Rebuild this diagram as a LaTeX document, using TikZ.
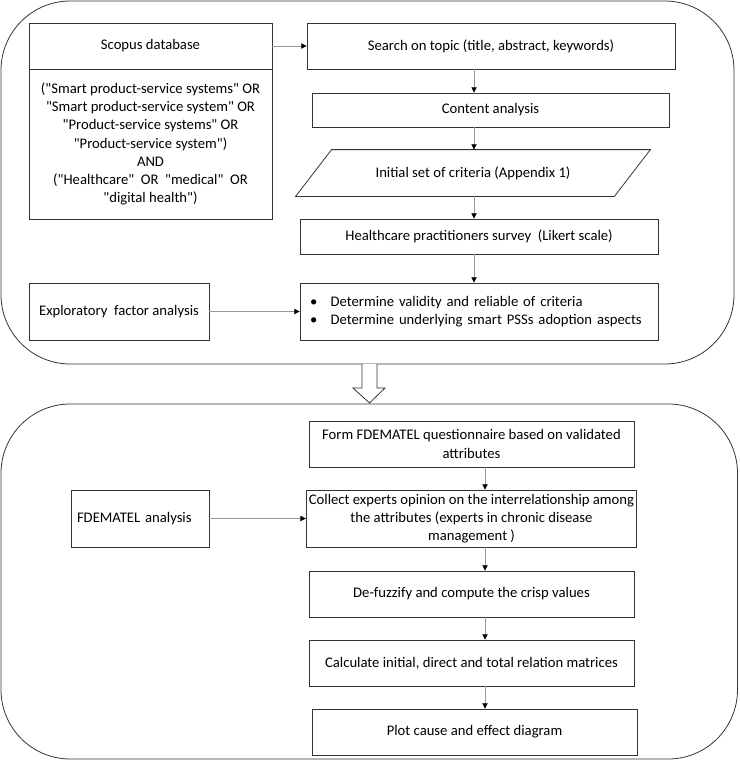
\documentclass[tikz,border=0pt]{standalone}
\usepackage{fontspec}
\setmainfont{Carlito}[Ligatures=TeXOff]
\usetikzlibrary{shapes,arrows.meta}
\tikzstyle{box} = [draw=black!80,line width=0.6pt,align=center,inner sep=2pt,font=\fontsize{11}{13.7}\selectfont]
\tikzstyle{arrow} = [draw=black!40,line width=0.5pt,-{Triangle[length=4pt,width=4pt,color=black]}]
\tikzstyle{group} = [draw=black!80,line width=0.6pt,rounded corners=52pt]

\begin{document}
\begin{tikzpicture}[x=0.75pt,y=-0.75pt]
  \useasboundingbox (0,0) rectangle (739,760);
  % the two stages
  \draw[group] (1,1) rectangle (734,364);
  \draw[group] (1,404) rectangle (737.5,759);
  % stage 1
  \node[box,minimum width=182.25pt,minimum height=34.5pt] (scopus) at (150.5,46) {Scopus database};
  \node[box,minimum width=182.25pt,minimum height=112.5pt] (query) at (150.5,144)
    {("Smart product-service systems" OR\\"Smart product-service system" OR\\"Product-service systems" OR\\"Product-service system")\\AND\\("Healthcare"~ OR~ "medical"~ OR\\"digital health")};
  \node[box,minimum width=276pt,minimum height=34.5pt] (search) at (491,46) {Search on topic (title, abstract, keywords)};
  \node[box,minimum width=267.75pt,minimum height=25.5pt] (content) at (490.5,110) {Content analysis};
  \node[box,draw=none,minimum width=238.5pt,minimum height=34.5pt] (criteria) at (473,173) {Initial set of criteria (Appendix 1)};
  \draw[black!80,line width=0.6pt] ([xshift=-13.5pt]criteria.south west) -- ([xshift=13.5pt]criteria.north west)
    -- ([xshift=13.5pt]criteria.north east) -- ([xshift=-13.5pt]criteria.south east) -- cycle;
  \node[box,minimum width=268.5pt,minimum height=26.25pt] (survey) at (479,236.5) {Healthcare practitioners survey~ (Likert scale)};
  \node[box,minimum height=42.75pt,text width=253.5pt,align=left,inner xsep=7.5pt] (determine) at (479,311.5)
    {\textbullet\hspace{10pt}Determine validity and reliable of criteria\\\textbullet\hspace{10pt}Determine underlying smart PSSs adoption aspects};
  \node[box,minimum width=135pt,minimum height=42.75pt] (explore) at (119,311.5) {Exploratory~ factor analysis};
  \coordinate (upx) at (474,0);
  \draw[arrow] (scopus) -- (search);
  \draw[arrow] (upx |- search.south) -- (upx |- content.north);
  \draw[arrow] (upx |- content.south) -- (upx |- criteria.north);
  \draw[arrow] (upx |- criteria.south) -- (upx |- survey.north);
  \draw[arrow] (upx |- survey.south) -- (upx |- determine.north);
  \draw[arrow] (explore) -- (determine);
  % big arrow between stages
  \draw[black!80,line width=0.6pt,fill=white] (362,364) -- (362,388) -- (353,388) -- (369.5,403) -- (385,388) -- (377,388) -- (377,364);
  % stage 2
  \node[box,minimum width=243.75pt,minimum height=34.5pt] (form) at (471.5,444)
    {Form FDEMATEL questionnaire based on validated\\attributes};
  \node[box,minimum width=243.75pt,minimum height=42.75pt] (collect) at (471.5,518.5)
    {Collect experts opinion on the interrelationship among\\the attributes (experts in chronic disease\\management )};
  \node[box,minimum width=243.75pt,minimum height=34.5pt] (defuzz) at (471.5,594) {De-fuzzify and compute the crisp values};
  \node[box,minimum width=243.75pt,minimum height=34.5pt] (calc) at (471.5,663) {Calculate initial, direct and total relation matrices};
  \node[box,minimum width=243.75pt,minimum height=34.5pt] (plot) at (474.5,732) {Plot cause and effect diagram};
  \node[box,minimum height=42.75pt,text width=94.5pt,align=left,inner xsep=4.5pt] (fdem) at (140,518.5) {FDEMATEL analysis};
  \coordinate (lowx) at (485,0);
  \draw[arrow] (lowx |- form.south) -- (lowx |- collect.north);
  \draw[arrow] (lowx |- collect.south) -- (lowx |- defuzz.north);
  \draw[arrow] (lowx |- defuzz.south) -- (lowx |- calc.north);
  \draw[arrow] (lowx |- calc.south) -- (lowx |- plot.north);
  \draw[arrow] (fdem) -- (collect);
\end{tikzpicture}
\end{document}
